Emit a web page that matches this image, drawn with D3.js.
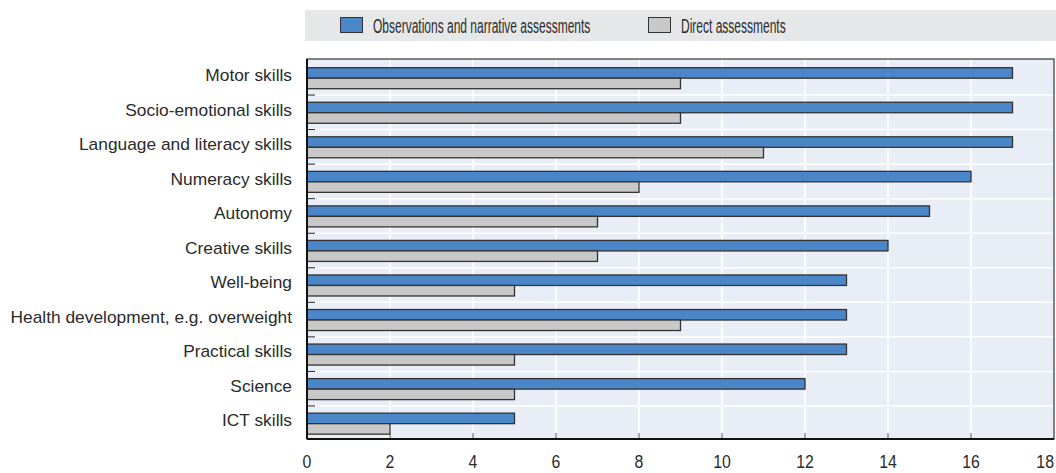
<!DOCTYPE html>
<html>
<head>
<meta charset="utf-8">
<script src="https://cdn.jsdelivr.net/npm/d3@7"></script>
<style>
  body { margin: 0; background: #fff; }
  text { font-family: "Liberation Sans", Arial, sans-serif; fill: #2b2b2b; }
</style>
</head>
<body>
<svg width="1056" height="473"></svg>
<script>
"use strict";

// Categories, top to bottom
var categories = ["Motor skills", "Socio-emotional skills", "Language and literacy skills",
    "Numeracy skills", "Autonomy", "Creative skills", "Well-being",
    "Health development, e.g. overweight", "Practical skills", "Science", "ICT skills"];

// Series values
var observations = [17, 17, 17, 16, 15, 14, 13, 13, 13, 12, 5];
var direct = [9, 9, 11, 8, 7, 7, 5, 9, 5, 5, 2];

var seriesNames = ["Observations and narrative assessments", "Direct assessments"];
var xTicks = [0, 2, 4, 6, 8, 10, 12, 14, 16, 18];

var margin = { left: 307, right: 2, top: 59, bottom: 34 };
var width = 1056 - margin.left - margin.right;
var height = 473 - margin.top - margin.bottom;

var svg = d3.select("svg");

// Squeeze text horizontally to mimic a condensed face
var condense = function(sel, factor) {
    sel.each(function() {
        var len = this.getComputedTextLength();
        d3.select(this)
            .attr("textLength", len * factor)
            .attr("lengthAdjust", "spacingAndGlyphs");
    });
};

// Scales
var xScale = d3.scaleLinear().domain([0, 18]).range([0, width]);
var yScale = d3.scaleBand().domain(categories).range([0, height]);

// Legend background
var legend = svg.append("g").attr("class", "legend");
legend.append("rect")
    .attr("x", 305).attr("y", 10)
    .attr("width", 751).attr("height", 31)
    .attr("fill", "#e6e7e8");

var legendX = [340, 648];
var legendFill = ["#4a86c8", "#c8c8c8"];
seriesNames.forEach(function(name, i) {
    legend.append("rect")
        .attr("x", legendX[i] + 0.5).attr("y", 17.5)
        .attr("width", 22).attr("height", 15)
        .attr("fill", legendFill[i])
        .attr("stroke", "#333").attr("stroke-width", 1);
    // narrow legend face: squeeze with a transform
    legend.append("text")
        .attr("class", "leg")
        .attr("transform", "translate(" + (legendX[i] + 33) + ",32.5) scale(0.6,1)")
        .style("font-size", "20px")
        .text(name);
});

// Chart group
var chart = svg.append("g")
    .attr("class", "chart")
    .attr("transform", "translate(" + margin.left + "," + margin.top + ")");

chart.append("rect")
    .attr("width", width).attr("height", height)
    .attr("fill", "#e9edf6");

// Vertical gridlines
chart.selectAll("line.vgrid")
    .data(xTicks.slice(1, -1))
    .enter().append("line")
    .attr("class", "vgrid")
    .attr("x1", function(d) { return xScale(d); })
    .attr("x2", function(d) { return xScale(d); })
    .attr("y1", 0).attr("y2", height)
    .attr("stroke", "#fff").attr("stroke-width", 1.5);

// Horizontal gridlines between categories
chart.selectAll("line.hgrid")
    .data(categories.slice(1))
    .enter().append("line")
    .attr("class", "hgrid")
    .attr("x1", 0).attr("x2", width)
    .attr("y1", function(d) { return yScale(d) + 1.5; })
    .attr("y2", function(d) { return yScale(d) + 1.5; })
    .attr("stroke", "#fff").attr("stroke-width", 1.5);

// Small category ticks at the left
chart.selectAll("line.ytick")
    .data(categories.slice(1))
    .enter().append("line")
    .attr("class", "ytick")
    .attr("x1", 0).attr("x2", 8)
    .attr("y1", function(d) { return yScale(d) + 1.5; })
    .attr("y2", function(d) { return yScale(d) + 1.5; })
    .attr("stroke", "#222").attr("stroke-width", 1);

// Bars
var barH = 10.5;
chart.selectAll("rect.obs")
    .data(categories)
    .enter().append("rect")
    .attr("class", "obs")
    .attr("x", 0)
    .attr("y", function(d) { return yScale(d) + 8.7; })
    .attr("width", function(d, i) { return xScale(observations[i]); })
    .attr("height", barH)
    .attr("fill", "#4a86c8")
    .attr("stroke", "#333").attr("stroke-width", 1.3);

chart.selectAll("rect.dir")
    .data(categories)
    .enter().append("rect")
    .attr("class", "dir")
    .attr("x", 0)
    .attr("y", function(d) { return yScale(d) + 8.7 + barH; })
    .attr("width", function(d, i) { return xScale(direct[i]); })
    .attr("height", barH)
    .attr("fill", "#c8c8c8")
    .attr("stroke", "#333").attr("stroke-width", 1.3);

// Category labels
var catLabels = chart.selectAll("text.cat")
    .data(categories)
    .enter().append("text")
    .attr("class", "cat")
    .attr("x", -15)
    .attr("y", function(d) { return yScale(d) + 22; })
    .style("text-anchor", "end")
    .style("font-size", "17px")
    .text(function(d) { return d; });
condense(catLabels, 1.02);

// Bottom ticks (inside) and labels
chart.selectAll("line.xtick")
    .data(xTicks.slice(1, -1))
    .enter().append("line")
    .attr("class", "xtick")
    .attr("x1", function(d) { return xScale(d); })
    .attr("x2", function(d) { return xScale(d); })
    .attr("y1", height).attr("y2", height - 6)
    .attr("stroke", "#555").attr("stroke-width", 1);

var xLabels = chart.selectAll("text.xlab")
    .data(xTicks)
    .enter().append("text")
    .attr("class", "xlab")
    .attr("x", function(d, i) { return i === xTicks.length - 1 ? width : xScale(d); })
    .attr("y", height + 29)
    .style("text-anchor", function(d, i) { return i === xTicks.length - 1 ? "end" : "middle"; })
    .style("font-size", "18px")
    .text(function(d) { return d; });
condense(xLabels, 0.88);

// Frame
chart.append("rect")
    .attr("width", width).attr("height", height)
    .attr("fill", "none")
    .attr("stroke", "#333").attr("stroke-width", 1.2);
chart.append("line")
    .attr("x1", 0).attr("x2", 0).attr("y1", 0).attr("y2", height)
    .attr("stroke", "#111").attr("stroke-width", 2);
chart.append("line")
    .attr("x1", 0).attr("x2", width).attr("y1", height).attr("y2", height)
    .attr("stroke", "#111").attr("stroke-width", 2);
</script>
</body>
</html>
